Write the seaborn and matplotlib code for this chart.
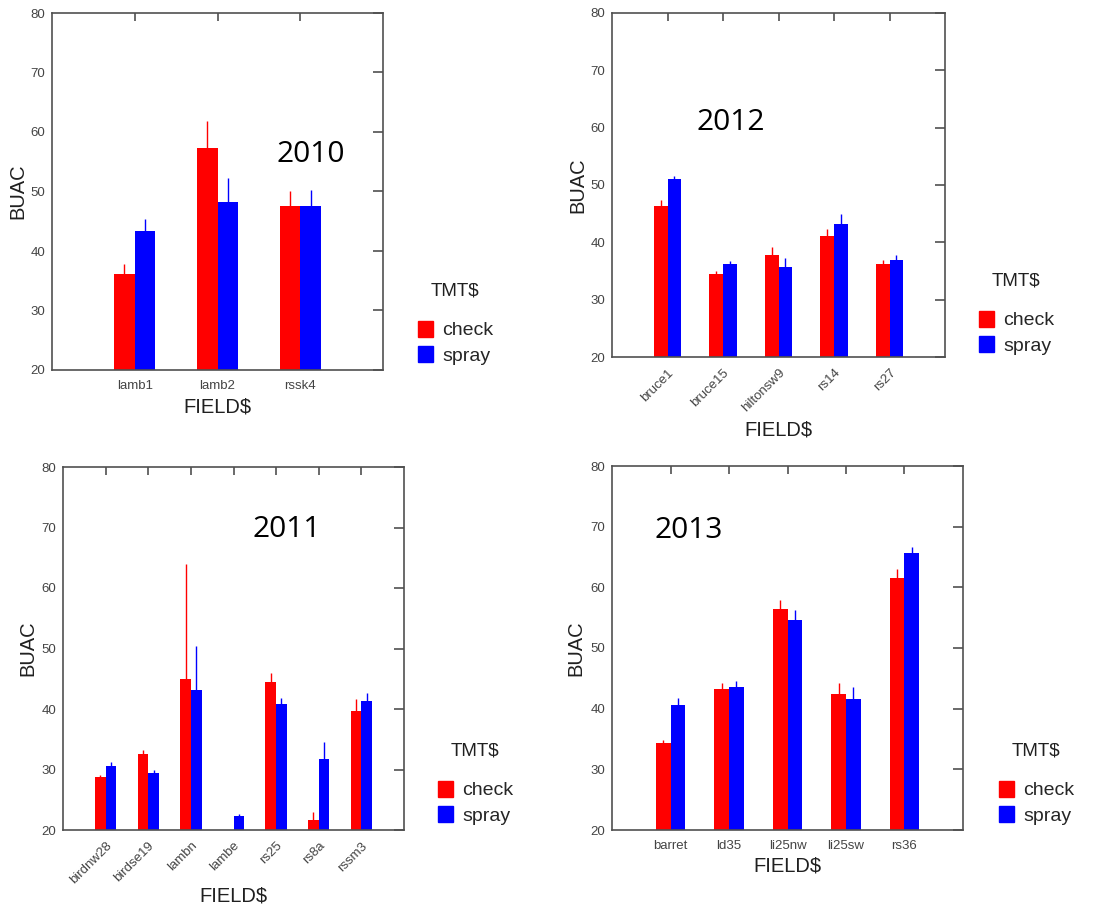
import numpy as np
import pandas as pd
import seaborn as sns
import matplotlib.pyplot as plt
from matplotlib.patches import Patch

# данные (BUAC, верх усов)
fields_2010 = ['lamb1', 'lamb2', 'rssk4']
check_2010 = [36.2, 57.3, 47.5]
check_top_2010 = [37.8, 61.8, 50.1]
spray_2010 = [43.3, 48.3, 47.5]
spray_top_2010 = [45.4, 52.2, 50.2]

fields_2012 = ['bruce1', 'bruce15', 'hiltonsw9', 'rs14', 'rs27']
check_2012 = [46.3, 34.4, 37.8, 41.1, 36.2]
check_top_2012 = [47.4, 35.0, 39.1, 42.4, 37.0]
spray_2012 = [51.1, 36.3, 35.7, 43.2, 37.0]
spray_top_2012 = [51.6, 36.8, 37.2, 44.9, 37.8]

fields_2011 = ['birdnw28', 'birdse19', 'lambn', 'lambe', 'rs25', 'rs8a', 'rssm3']
check_2011 = [28.7, 32.5, 44.9, np.nan, 44.4, 21.7, 39.6]
check_top_2011 = [29.1, 33.2, 63.9, np.nan, 46.0, 23.0, 41.6]
spray_2011 = [30.6, 29.4, 43.1, 22.3, 40.8, 31.7, 41.4]
spray_top_2011 = [31.2, 30.0, 50.4, 22.7, 41.9, 34.5, 42.7]

fields_2013 = ['barret', 'ld35', 'li25nw', 'li25sw', 'rs36']
check_2013 = [34.3, 43.2, 56.4, 42.4, 61.5]
check_top_2013 = [34.8, 44.2, 57.9, 44.2, 63.1]
spray_2013 = [40.6, 43.5, 54.6, 41.6, 65.6]
spray_top_2013 = [41.7, 44.6, 56.3, 43.6, 66.7]

tmt_levels = ['check', 'spray']
colors = ['#ff0000', '#0000ff']

sns.set_style('white')
plt.rcParams['font.family'] = ['Liberation Sans', 'DejaVu Sans']

W, H = 1099, 922
fig = plt.figure(figsize=(W / 100, H / 100), dpi=100)


def px_axes(left, top, right, bottom):
    return fig.add_axes([left / W, 1 - bottom / H, (right - left) / W, (bottom - top) / H])


def panel(ax, year, fields, check, check_top, spray, spray_top, rotate,
          year_xy, legend_xy, xlab_y):
    n = len(fields)
    df = pd.DataFrame({
        'FIELD$': fields * 2,
        'BUAC': list(check) + list(spray),
        'TMT$': ['check'] * n + ['spray'] * n,
    })
    sns.barplot(data=df, x='FIELD$', y='BUAC', hue='TMT$', hue_order=tmt_levels,
                palette=colors, width=0.5, errorbar=None, saturation=1,
                linewidth=0, legend=False, ax=ax)
    tops = [check_top, spray_top]
    for i, cont in enumerate(ax.containers):
        for bar in cont:
            h = bar.get_height()
            if np.isnan(h):
                continue
            xc = bar.get_x() + bar.get_width() / 2
            k = int(round(xc))
            ax.vlines(xc, h, tops[i][k], color=colors[i], lw=1.0, zorder=3)

    ax.set_ylim(20, 80)
    ax.set_xlim(-1, n)
    ax.set_yticks(range(20, 81, 10))
    for s in ax.spines.values():
        s.set_color('#505050')
        s.set_linewidth(1.2)
    ax.tick_params(axis='x', bottom=False, top=True, direction='in', length=6,
                   width=1.2, color='#505050', labelsize=9.5, labelcolor='#444444', pad=7)
    ax.tick_params(axis='y', left=False, right=True, direction='in', length=7,
                   width=1.2, color='#505050', labelsize=9.5, labelcolor='#444444', pad=5)
    if rotate:
        for lab in ax.get_xticklabels():
            lab.set_rotation(45)
            lab.set_ha('right')
            lab.set_rotation_mode('anchor')
    ax.set_xlabel('FIELD$', fontsize=14.5, color='#202020')
    ax.set_ylabel('BUAC', fontsize=14.5, color='#202020')
    ax.xaxis.set_label_coords(0.5, xlab_y)
    ax.yaxis.set_label_coords(-0.075, 0.5)

    fig.text(year_xy[0] / W, 1 - year_xy[1] / H, year, fontsize=21.5,
             family=['Open Sans', 'DejaVu Sans'], ha='center', va='center', color='black')

    # заголовок легенды отдельно, чтобы был зазор как на оригинале
    lx, ly = legend_xy
    fig.text((lx + 37) / W, 1 - (ly + 11) / H, 'TMT$', fontsize=13.5,
             ha='center', va='center', color='#202020')
    handles = [Patch(color=c) for c in colors]
    ax.legend(handles, tmt_levels, loc='upper left',
              bbox_to_anchor=(lx / W, 1 - (ly + 41) / H),
              bbox_transform=fig.transFigure, frameon=False, fontsize=14,
              handlelength=0.75, handleheight=0.85,
              handletextpad=0.5, labelspacing=0.35, borderpad=0, borderaxespad=0)


ax1 = px_axes(52, 13, 383, 370)
panel(ax1, '2010', fields_2010, check_2010, check_top_2010, spray_2010, spray_top_2010,
      False, (311, 154), (418, 280), -0.076)

ax2 = px_axes(612, 13, 945, 357)
panel(ax2, '2012', fields_2012, check_2012, check_top_2012, spray_2012, spray_top_2012,
      True, (731, 123), (979, 270), -0.186)

ax3 = px_axes(63, 467, 404, 830)
panel(ax3, '2011', fields_2011, check_2011, check_top_2011, spray_2011, spray_top_2011,
      True, (287, 529), (438, 740), -0.157)

ax4 = px_axes(612, 466, 963, 830)
panel(ax4, '2013', fields_2013, check_2013, check_top_2013, spray_2013, spray_top_2013,
      False, (689, 530), (999, 740), -0.074)

fig.savefig('out.png', dpi=100, facecolor='white')
